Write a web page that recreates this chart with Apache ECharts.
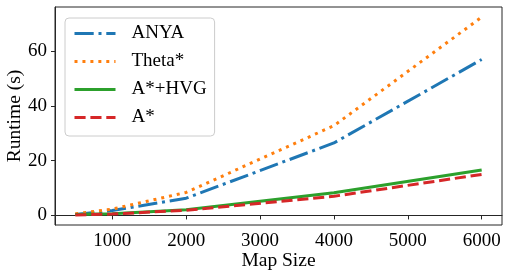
<!DOCTYPE html>
<html><head><meta charset="utf-8">
<script src="https://cdn.jsdelivr.net/npm/echarts@6/dist/echarts.min.js"></script>
<style>html,body{margin:0;padding:0;background:#fff}#c{width:508px;height:277px}</style>
</head><body><div id="c"></div>
<script>
const mapSizes = [500, 1000, 2000, 4000, 6000];
const anya = [0.3, 1.8, 6.3, 26.5, 57.0];
const theta = [0.6, 2.3, 8.4, 32.8, 72.5];
const astarHvg = [0.3, 0.6, 2.1, 8.3, 16.6];
const astar = [0.2, 0.5, 1.9, 7.0, 15.0];
const xTicks = [1000, 2000, 3000, 4000, 5000, 6000];
const yTicks = [0, 20, 40, 60];

const FONT = '"Liberation Serif", "DejaVu Serif", serif';
const pairs = v => mapSizes.map((x, i) => [x, v[i]]);
const mk = (name, vals, color, dash) => ({
  name, type: 'line', data: pairs(vals), symbol: 'none', showSymbol: false,
  lineStyle: { color, width: 3, type: dash, cap: 'butt' },
  itemStyle: { color }, animation: false
});
const chart = echarts.init(document.getElementById('c'), null, { renderer: 'canvas' });
chart.setOption({
  animation: false,
  grid: { left: 55, right: 6, top: 7, bottom: 52, outerBoundsMode: 'none', containLabel: false, show: true, borderColor: '#262626', borderWidth: 1, backgroundColor: 'transparent' },
  xAxis: {
    type: 'value', min: 225, max: 6275,
    name: 'Map Size', nameLocation: 'middle', nameGap: 26, nameMoveOverlap: false,
    nameTextStyle: { fontFamily: FONT, fontSize: 19.5, color: '#000' },
    splitLine: { show: false },
    axisLine: { show: true, lineStyle: { color: '#262626', width: 1 } },
    axisTick: { show: true, inside: false, length: 4, lineStyle: { color: '#262626' }, customValues: xTicks },
    axisLabel: { fontFamily: FONT, fontSize: 19, color: '#000', margin: 7, customValues: xTicks, formatter: v => String(v) }
  },
  yAxis: {
    type: 'value', min: -3.5, max: 76.2,
    name: 'Runtime (s)', nameLocation: 'middle', nameGap: 30, nameRotate: 90, nameMoveOverlap: false,
    nameTextStyle: { fontFamily: FONT, fontSize: 19.5, color: '#000' },
    splitLine: { show: false },
    axisLine: { show: true, lineStyle: { color: '#262626', width: 1 } },
    axisTick: { show: true, inside: false, length: 4, lineStyle: { color: '#262626' }, customValues: yTicks },
    axisLabel: { fontFamily: FONT, fontSize: 19, color: '#000', margin: 8, customValues: yTicks, formatter: v => String(v) }
  },
  legend: {
    orient: 'vertical', left: 65, top: 18,
    padding: [6, 8, 9, 8], itemWidth: 41, itemHeight: 14, itemGap: 9,
    backgroundColor: 'rgba(255,255,255,0.8)', borderColor: '#cccccc', borderWidth: 1, borderRadius: 4,
    itemStyle: { opacity: 0, borderWidth: 0 },
    lineStyle: { width: 3 },
    textStyle: { fontFamily: FONT, fontSize: 19, color: '#000', padding: [0, 0, 0, 11] },
    data: ['ANYA', 'Theta*', 'A*+HVG', 'A*']
  },
  series: [
    mk('ANYA', anya, '#1f77b4', [19.2, 4.8, 3, 4.8]),
    mk('Theta*', theta, '#ff7f0e', [3, 4.95]),
    mk('A*+HVG', astarHvg, '#2ca02c', 'solid'),
    mk('A*', astar, '#d62728', [11.1, 4.8])
  ]
});
</script></body></html>
